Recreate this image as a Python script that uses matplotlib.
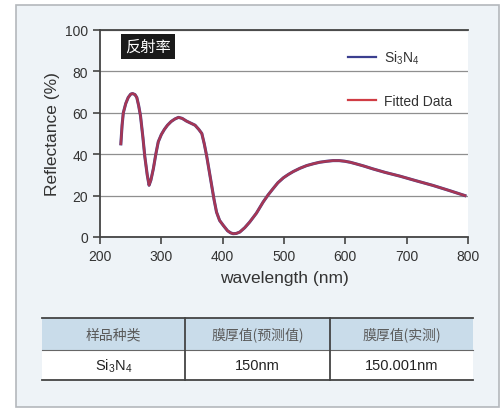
import numpy as np
import matplotlib.pyplot as plt
from matplotlib.patches import Rectangle

plt.rcParams['font.family'] = ['Liberation Sans', 'DejaVu Sans', 'Noto Sans CJK SC']
plt.rcParams['mathtext.fontset'] = 'custom'
plt.rcParams['mathtext.rm'] = 'Liberation Sans'

# curve
wavelength = [234, 236, 238, 242, 246, 250, 253, 257, 260, 263, 266, 270, 273, 277, 280,
              283, 287, 291, 295, 300, 305, 310, 316, 322, 328, 334, 341, 348, 355, 361,
              366, 370, 374, 378, 382, 386, 390, 395, 401, 408, 413, 417, 422, 428, 436,
              444, 455, 466, 474, 482, 490, 499, 507, 515, 526, 537, 548, 558, 570, 580,
              590, 599, 608, 618, 630, 645, 665, 689, 715, 743, 770, 795]
reflectance = [45, 54, 60, 64.5, 67.4, 69, 69.3, 68.8, 67.4, 63.5, 58.6, 48, 39, 30, 25,
               27.5, 33, 40, 46, 49.5, 52, 54, 55.8, 57, 57.8, 57.3, 56, 55, 54, 52,
               50, 45, 39, 32, 25, 18, 12, 8, 5.6, 3, 2, 1.6, 1.7, 2.4, 4.5,
               7.2, 11.5, 16.9, 20.3, 23.3, 26.2, 28.6, 30.2, 31.6, 33.2, 34.5, 35.4, 36.1, 36.6, 36.9,
               36.9, 36.6, 36.1, 35.3, 34.3, 32.9, 31.2, 29.4, 27.2, 24.9, 22.4, 20]

series_names = ['Si$_3$N$_4$', 'Fitted Data']
col_labels = ['样品种类', '膜厚值(预测值)', '膜厚值(实测)']
row_values = ['Si$_3$N$_4$', '150nm', '150.001nm']

W, H = 503, 410
fig = plt.figure(figsize=(W / 100, H / 100), dpi=100)
fig.patch.set_facecolor('white')

# background panel and table drawn in pixel coordinates
bg = fig.add_axes([0, 0, 1, 1], zorder=0)
bg.set_xlim(0, W)
bg.set_ylim(H, 0)
bg.axis('off')
bg.add_patch(Rectangle((16, 6), 483, 402, facecolor='#eef3f7', edgecolor='#b4b8bc', lw=1.2))

tx = [42, 185, 330, 473]
ty = [319, 351, 381]
bg.add_patch(Rectangle((tx[0], ty[0]), tx[3] - tx[0], ty[1] - ty[0], facecolor='#c9dcea', edgecolor='none'))
bg.add_patch(Rectangle((tx[0], ty[1]), tx[3] - tx[0], ty[2] - ty[1], facecolor='white', edgecolor='none'))
bg.plot([tx[0], tx[3]], [ty[0], ty[0]], color='#444444', lw=1.3)
bg.plot([tx[0], tx[3]], [ty[1], ty[1]], color='#666666', lw=0.8)
bg.plot([tx[0], tx[3]], [ty[2], ty[2]], color='#444444', lw=1.3)
for x in tx[1:3]:
    bg.plot([x, x], [ty[0], ty[2]], color='#444444', lw=1.3)
for i in range(3):
    cx = (tx[i] + tx[i + 1]) / 2
    bg.text(cx, (ty[0] + ty[1]) / 2, col_labels[i], ha='center', va='center', fontsize=10,
            color='#5a5a5a', family=['Noto Sans CJK SC', 'DejaVu Sans'])
    bg.text(cx, (ty[1] + ty[2]) / 2, row_values[i], ha='center', va='center', fontsize=10.5,
            color='#222222')

# main chart
ax = fig.add_axes([100 / W, 1 - 238 / H, 368 / W, 207 / H], zorder=1)
ax.set_facecolor('white')
ax.plot(wavelength, reflectance, color='#3b3f8f', lw=2.2, label=series_names[0])
ax.plot(wavelength, reflectance, color='#cc3440', lw=1.8, alpha=0.75, label=series_names[1])
ax.set_xlim(200, 800)
ax.set_ylim(0, 100)
ax.set_xticks(np.arange(200, 801, 100))
ax.set_yticks(np.arange(0, 101, 20))
ax.grid(axis='y', color='#8f8f8f', lw=0.9)
ax.set_axisbelow(True)
for s in ['left', 'bottom', 'top']:
    ax.spines[s].set_color('#444444')
    ax.spines[s].set_linewidth(1.3)
ax.spines['right'].set_visible(False)
ax.tick_params(axis='both', direction='out', length=5, width=1.2, color='#444444',
               labelsize=10, labelcolor='#333333')
ax.set_xlabel('wavelength (nm)', fontsize=12.5, color='#333333', labelpad=5)
ax.set_ylabel('Reflectance (%)', fontsize=12.5, color='#333333', labelpad=4)

ax.text(278, 92, '反射率', ha='center', va='center', fontsize=11, color='white',
        family=['Noto Sans CJK SC', 'DejaVu Sans'],
        bbox=dict(boxstyle='square,pad=0.25', facecolor='#1a1a1a', edgecolor='none'))

leg = ax.legend(loc='upper left', bbox_to_anchor=(0.64, 0.97), frameon=False, fontsize=10,
                handlelength=2.0, labelspacing=2.0, handletextpad=0.6)
for t in leg.get_texts():
    t.set_color('#333333')
leg_lines = leg.get_lines()
leg_lines[0].set_linewidth(1.6)
leg_lines[1].set_linewidth(1.6)
leg_lines[1].set_alpha(1.0)
leg_lines[1].set_color('#d03c44')

fig.savefig('out.png', dpi=100)
